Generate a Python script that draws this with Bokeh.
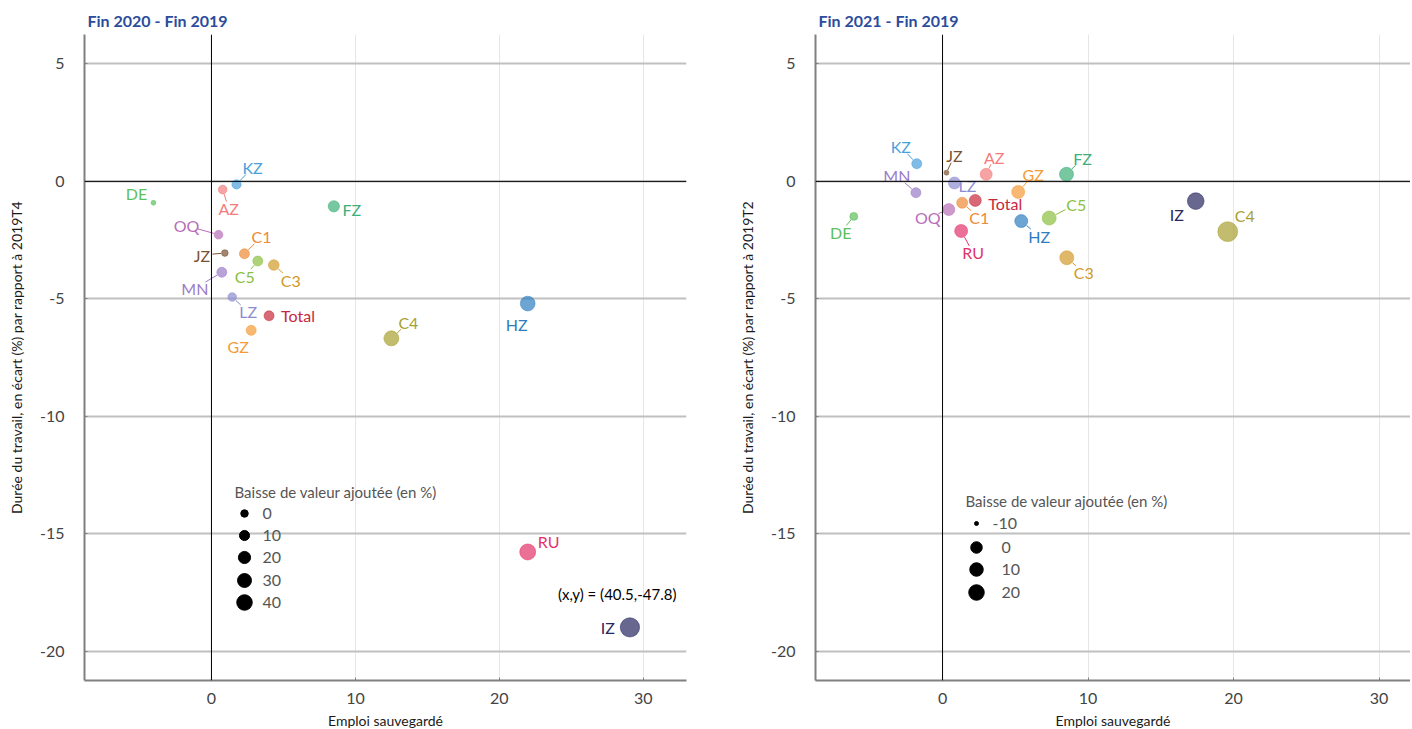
import numpy as np
from bokeh.plotting import figure
from bokeh.layouts import row
from bokeh.models import Span, FixedTicker, Range1d
from bokeh.core.properties import value
from bokeh.embed import file_html
from bokeh.resources import INLINE

# ---------------- data ----------------
sectors = ["KZ", "AZ", "DE", "FZ", "OQ", "JZ", "C1", "C5", "C3", "MN", "LZ",
           "Total", "GZ", "C4", "HZ", "RU", "IZ"]

# Fin 2020 - Fin 2019
emploi_2020 = [1.74, 0.78, -4.03, 8.5, 0.49, 0.93, 2.29, 3.22, 4.33, 0.72, 1.44,
               4.0, 2.76, 12.5, 21.97, 21.97, 29.07]
duree_2020 = [-0.13, -0.35, -0.91, -1.06, -2.27, -3.05, -3.08, -3.39, -3.56, -3.87, -4.92,
              -5.72, -6.34, -6.68, -5.2, -15.77, -18.98]
va_2020 = [6.5, 4.3, -7.0, 15.6, 4.3, -2.4, 9.6, 9.6, 12.7, 9.6, 4.3,
           9.6, 9.6, 36.7, 34.8, 43.5, 68.8]
iz_true_2020 = (40.5, -47.8)

# Fin 2021 - Fin 2019
emploi_2021 = [-1.77, 3.0, -6.1, 8.52, 0.43, 0.27, 1.35, 7.33, 8.54, -1.83, 0.82,
               2.25, 5.2, 19.6, 5.41, 1.28, 17.4]
duree_2021 = [0.75, 0.3, -1.49, 0.3, -1.2, 0.37, -0.91, -1.56, -3.25, -0.48, -0.07,
              -0.81, -0.45, -2.14, -1.69, -2.11, -0.84]
va_2021 = [-2.0, 2.5, -4.7, 12.5, 2.5, -8.7, -0.7, 12.5, 12.5, -2.0, 2.5,
           2.5, 7.5, 42.0, 7.5, 7.5, 26.0]

legend_vals_2020 = [0, 10, 20, 30, 40]
legend_vals_2021 = [-10, 0, 10, 20]

x_ticks = [0, 10, 20, 30]
y_ticks = [5, 0, -5, -10, -15, -20]

# ---------------- styles ----------------
FONT = "Lato"
colors = {
    "KZ": "#4A9FDB", "AZ": "#F47C7C", "DE": "#5CBF5C", "FZ": "#3DAF78",
    "OQ": "#B86DB8", "JZ": "#7A5230", "C1": "#EE8A33", "C5": "#8BBF3F",
    "C3": "#D19A2A", "MN": "#9A7CC8", "LZ": "#8C8CD0", "Total": "#C8283C",
    "GZ": "#F59A36", "C4": "#A8A030", "HZ": "#2E7DC0", "RU": "#E2336B",
    "IZ": "#262660",
}

off_2020 = {
    "KZ": (16, -17), "AZ": (6, 19), "DE": (-17, -9), "FZ": (18, 3), "OQ": (-32, -9),
    "JZ": (-23, 2), "C1": (17, -17), "C5": (-13, 15), "C3": (17, 15), "MN": (-27, 16),
    "LZ": (16, 15), "Total": (29, 0), "GZ": (-13, 16), "C4": (17, -16), "HZ": (-11, 21),
    "RU": (21, -10), "IZ": (-22, 0),
}
noleader_2020 = {"DE", "FZ", "Total", "IZ", "HZ", "RU", "GZ"}

off_2021 = {
    "KZ": (-16, -17), "JZ": (8, -17), "AZ": (8, -17), "FZ": (16, -16), "MN": (-19, -17),
    "LZ": (13, 2), "GZ": (15, -17), "Total": (30, 3), "C1": (17, 15), "OQ": (-21, 8),
    "C5": (27, -14), "HZ": (18, 15), "DE": (-13, 16), "RU": (12, 22), "C3": (17, 15),
    "IZ": (-19, 13), "C4": (17, -16),
}
noleader_2021 = {"IZ", "C4", "LZ"}


def size_2020(v):
    v = np.asarray(v, dtype=float)
    return np.sqrt(np.maximum(56 + 4.6 * v, 9))


def size_2021(v):
    v = np.asarray(v, dtype=float)
    d = np.interp(v, [-10, 0, 10, 20], [4, 11.5, 13.5, 15.5])
    return np.where(v > 20, 15.5 + 0.2 * (v - 20), d)


def make_panel(title, xr, fw, fh, yr, border_left, border_right,
               xs, ys, vals, sizefn, offs, noleader, ylab,
               leg_vals, leg_title_px, leg_dot_x, leg_ys, leg_lab_x, extra=None):
    p = figure(output_backend="svg", toolbar_location=None,
               frame_width=fw, frame_height=fh,
               x_range=Range1d(*xr), y_range=Range1d(*yr),
               min_border_left=border_left, min_border_right=border_right,
               min_border_top=34, min_border_bottom=49)
    sx = fw / (xr[1] - xr[0])
    sy = fh / (yr[1] - yr[0])

    def to_px(x, y):
        return (x - xr[0]) * sx, (yr[1] - y) * sy

    def to_data(px, py):
        return xr[0] + px / sx, yr[1] - py / sy

    p.title.text = title
    p.title.text_font = FONT
    p.title.text_font_size = "16px"
    p.title.text_font_style = "bold"
    p.title.text_color = "#2C4C9C"
    p.title.offset = 3
    p.title.standoff = 10

    p.outline_line_color = None
    p.background_fill_color = "white"
    p.border_fill_color = "white"

    p.xaxis.ticker = FixedTicker(ticks=x_ticks)
    p.yaxis.ticker = FixedTicker(ticks=y_ticks)
    p.xaxis.major_label_overrides = {t: str(t) for t in x_ticks}
    p.yaxis.major_label_overrides = {t: str(t) for t in y_ticks}
    for ax in (p.xaxis[0], p.yaxis[0]):
        ax.axis_line_color = "#808080"
        ax.axis_line_width = 2
        ax.major_tick_line_color = "#808080"
        ax.major_tick_in = 3
        ax.major_tick_out = 0
        ax.minor_tick_line_color = None
        ax.major_label_text_font = FONT
        ax.major_label_text_font_size = "16px"
        ax.major_label_text_color = "#444444"
        ax.axis_label_text_font = FONT
        ax.axis_label_text_font_size = "14px"
        ax.axis_label_text_font_style = "normal"
        ax.axis_label_text_color = "#1A1A1A"
    p.xaxis.major_label_standoff = 12
    p.xaxis.axis_label_standoff = 5
    p.yaxis.major_label_standoff = 20
    p.yaxis.axis_label_standoff = 12
    p.xaxis.axis_label = "Emploi sauvegardé"
    p.yaxis.axis_label = ylab

    p.ygrid.grid_line_color = "#C0C0C0"
    p.ygrid.grid_line_width = 2
    p.xgrid.grid_line_color = "#E6E6E6"
    p.xgrid.grid_line_width = 1

    p.add_layout(Span(location=0, dimension="height", line_color="black", line_width=1))
    p.add_layout(Span(location=0, dimension="width", line_color="black", line_width=1))

    xs = np.asarray(xs, float)
    ys = np.asarray(ys, float)
    d = sizefn(vals)
    cols = [colors[s] for s in sectors]

    # leader lines
    x0s, y0s, x1s, y1s, lcols = [], [], [], [], []
    lx, ly = [], []
    for i, s in enumerate(sectors):
        cx, cy = to_px(xs[i], ys[i])
        dx, dy = offs[s]
        tx, ty = to_data(cx + dx, cy + dy)
        lx.append(tx)
        ly.append(ty)
        if s in noleader:
            continue
        L = np.hypot(dx, dy)
        ux, uy = dx / L, dy / L
        w = len(s) * 4.8 + 1
        h = 7.0
        cand = []
        if abs(ux) > 1e-6:
            cand.append(w / abs(ux))
        if abs(uy) > 1e-6:
            cand.append(h / abs(uy))
        end = L - min(cand)
        start = d[i] / 2 + 0.5
        if end - start > 3:
            a = to_data(cx + ux * start, cy + uy * start)
            b = to_data(cx + ux * end, cy + uy * end)
            x0s.append(a[0]); y0s.append(a[1]); x1s.append(b[0]); y1s.append(b[1])
            lcols.append(colors[s])
    p.segment(x0=x0s, y0=y0s, x1=x1s, y1=y1s, line_color=lcols, line_width=1)

    p.scatter(x=xs, y=ys, size=d, fill_color=cols, fill_alpha=0.7,
              line_color=cols, line_alpha=0.5, line_width=1)
    p.text(x=lx, y=ly, text=sectors, text_color=cols, text_font=value(FONT),
           text_font_size="16px", text_align="center", text_baseline="middle")

    # size legend
    tx, ty = to_data(*leg_title_px)
    p.text(x=[tx], y=[ty], text=["Baisse de valeur ajoutée (en %)"], text_color="#555555",
           text_font=value(FONT), text_font_size="15px", text_align="left",
           text_baseline="middle")
    dots = [to_data(leg_dot_x, yy) for yy in leg_ys]
    p.scatter(x=[q[0] for q in dots], y=[q[1] for q in dots], size=sizefn(leg_vals),
              fill_color="black", line_color="black")
    labs = []
    for v, yy in zip(leg_vals, leg_ys):
        xx = leg_lab_x - (9 if v < 0 else 0)
        labs.append(to_data(xx, yy))
    p.text(x=[q[0] for q in labs], y=[q[1] for q in labs], text=[str(v) for v in leg_vals],
           text_color="#555555", text_font=value(FONT), text_font_size="16px",
           text_align="left", text_baseline="middle")

    if extra is not None:
        etext, epx = extra
        ex, ey = to_data(*epx)
        p.text(x=[ex], y=[ey], text=[etext], text_color="black", text_font=value(FONT),
               text_font_size="15px", text_align="center", text_baseline="middle")
    return p


iz_note = "(x,y) = (%s,%s)" % (iz_true_2020[0], iz_true_2020[1])

p1 = make_panel("Fin 2020 - Fin 2019", (-8.82, 33.0), 602, 646, (-21.24, 6.25), 84, 45,
                emploi_2020, duree_2020, va_2020, size_2020, off_2020, noleader_2020,
                "Durée du travail, en écart (%) par rapport à 2019T4",
                legend_vals_2020, (234 - 84, 491 - 34), 244 - 84,
                [y - 34 for y in (513, 535, 557, 580, 602)], 262 - 84,
                extra=(iz_note, (616.7 - 84, 593.3 - 34)))

p2 = make_panel("Fin 2021 - Fin 2019", (-8.73, 32.16), 595, 646, (-21.24, 6.25), 84, 0,
                emploi_2021, duree_2021, va_2021, size_2021, off_2021, noleader_2021,
                "Durée du travail, en écart (%) par rapport à 2019T2",
                legend_vals_2021, (965 - 815, 500 - 34), 976 - 815,
                [y - 34 for y in (523, 547, 569, 592)], 1001 - 815)

layout = row(p1, p2)
open("out.html", "w").write(file_html(layout, INLINE))
